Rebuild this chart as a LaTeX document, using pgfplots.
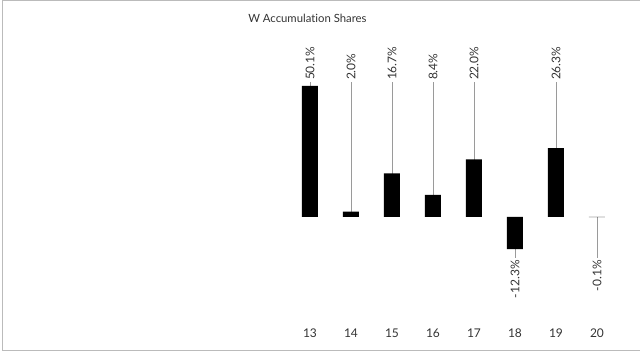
\documentclass[border=0pt]{standalone}
\usepackage{pgfplots}
\pgfplotsset{compat=1.18}
\usepackage{fontspec}
\setmainfont{Lato}[Ligatures=CommonOff]
\definecolor{txt}{HTML}{333333}
\definecolor{lead}{HTML}{9A9A9A}
\definecolor{frame}{HTML}{BBBBBB}
\begin{document}
\begin{tikzpicture}
\path[use as bounding box] (0pt,0pt) rectangle (480pt,264pt);
\draw[frame, line width=0.8pt] (480pt,263.4pt) -- (1.9pt,263.4pt) -- (1.9pt,1.2pt) -- (480pt,1.2pt);
\node[anchor=west, inner sep=0pt, text=txt, font=\fontsize{8.5}{10}\selectfont] at (186pt,250.5pt) {W Accumulation Shares};
\begin{axis}[
  at={(217.1pt,22.8pt)}, anchor=south west,
  scale only axis, width=246pt, height=215.8pt,
  xmin=12.5, xmax=20.5, ymin=-40, ymax=70,
  axis line style={draw=none},
  xtick={13,14,15,16,17,18,19,20},
  xticklabels={13,14,15,16,17,18,19,20},
  ytick=\empty,
  major tick length=0pt,
  xticklabel style={text=txt, font=\fontsize{9}{10}\selectfont, yshift=-2pt},
  /pgf/number format/assume math mode=true,
  clip=false,
]
% leader lines (positive)
\addplot[ycomb, lead, line width=0.6pt, mark=none] coordinates {
(13,51.5) (14,51.5) (15,51.5) (16,51.5) (17,51.5) (19,51.5)};
% leader lines (negative)
\addplot[ycomb, lead, line width=0.6pt, mark=none] coordinates {
(18,-15.7) (20,-15.7)};
% bars
\addplot[ybar, bar width=12pt, fill=black, draw=none] coordinates {
(13,50.1) (14,2.0) (15,16.7) (16,8.4) (17,22.0) (18,-12.3) (19,26.3) (20,-0.1)};
% labels positive
\addplot[only marks, mark=none, nodes near coords, point meta=explicit symbolic,
  nodes near coords style={rotate=90, anchor=west, inner sep=1.5pt, text=txt, font=\fontsize{9}{10}\selectfont}]
  coordinates {
(13,51.5) [50.1\%]
(14,51.5) [2.0\%]
(15,51.5) [16.7\%]
(16,51.5) [8.4\%]
(17,51.5) [22.0\%]
(19,51.5) [26.3\%]};
% labels negative
\addplot[only marks, mark=none, nodes near coords, point meta=explicit symbolic,
  nodes near coords style={rotate=90, anchor=east, inner sep=1.5pt, text=txt, font=\fontsize{9}{10}\selectfont}]
  coordinates {
(18,-15.7) [-12.3\%]
(20,-15.7) [-0.1\%]};
\end{axis}
\end{tikzpicture}
\end{document}
